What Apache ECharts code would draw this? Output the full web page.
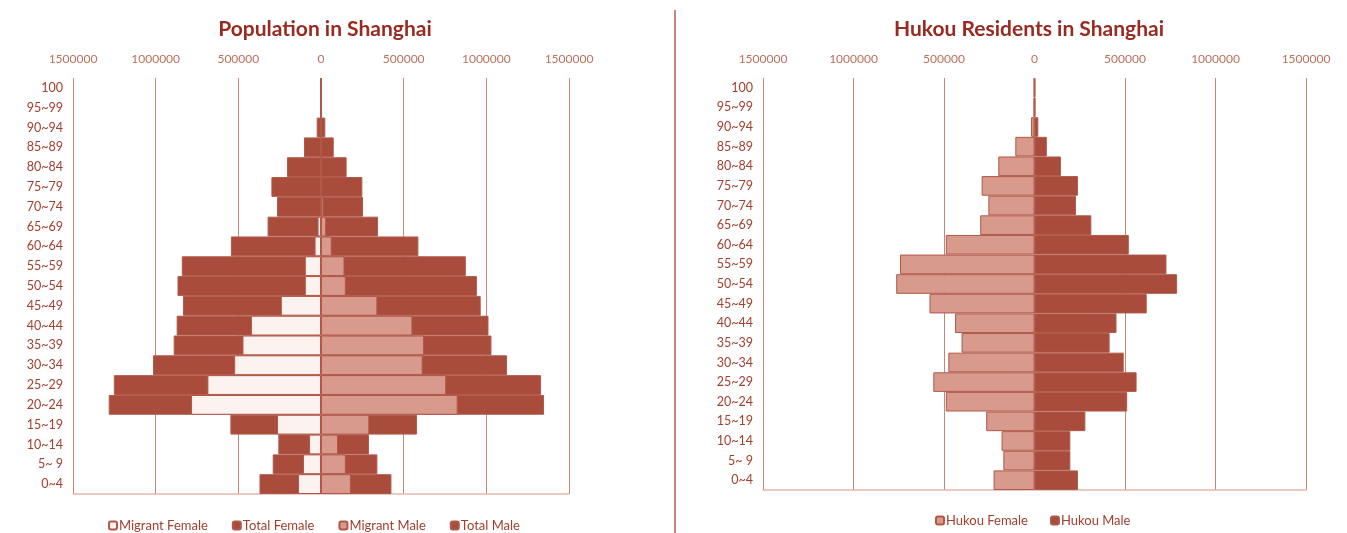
<!DOCTYPE html>
<html>
<head>
<meta charset="utf-8">
<script src="https://cdn.jsdelivr.net/npm/echarts@6/dist/echarts.min.js"></script>
<style>
  html, body { margin: 0; padding: 0; background: #fff; }
  #chart { width: 1347px; height: 533px; }
</style>
</head>
<body>
<div id="chart"></div>
<script>
// 年龄组（自下而上）
const ageGroups = ['0~4', '5~ 9', '10~14', '15~19', '20~24', '25~29', '30~34', '35~39', '40~44',
  '45~49', '50~54', '55~59', '60~64', '65~69', '70~74', '75~79', '80~84', '85~89', '90~94', '95~99', '100']

// 常住人口
const totalFemale = [372000, 292000, 258000, 548000, 1284000, 1253000, 1016000, 891000, 873000,
  835000, 868000, 842000, 545000, 323000, 266000, 300000, 206000, 103000, 26000, 5000, 4000]
const totalMale = [426000, 341000, 290000, 581000, 1349000, 1331000, 1125000, 1031000, 1013000,
  966000, 943000, 876000, 589000, 345000, 254000, 250000, 155000, 77000, 26000, 5000, 4000]
const migrantFemale = [139000, 109000, 72000, 266000, 786000, 687000, 525000, 475000, 424000,
  243000, 98000, 98000, 39000, 21000, 5000, 4000, 0, 0, 0, 0, 0]
const migrantMale = [181000, 150000, 103000, 292000, 827000, 757000, 615000, 623000, 553000,
  341000, 150000, 142000, 65000, 31000, 15000, 8000, 0, 0, 0, 0, 0]

// 户籍人口
const hukouFemale = [226000, 172000, 182000, 267000, 490000, 559000, 476000, 403000, 439000,
  580000, 764000, 743000, 490000, 300000, 255000, 292000, 200000, 106000, 19000, 5000, 4000]
const hukouMale = [240000, 198000, 198000, 281000, 512000, 564000, 493000, 415000, 453000,
  620000, 788000, 729000, 521000, 314000, 229000, 240000, 146000, 68000, 21000, 5000, 4000]

const tickMax = 1500000
const tickStep = 500000

const chart = echarts.init(document.getElementById('chart'))

const dark = '#a94c3c'
const mid = '#d89a8c'
const light = '#fcf3f0'
const edge = '#b0584a'
const textRed = '#a23f2f'
const fontFamily = 'Lato, "Open Sans", sans-serif'

const neg = (arr) => arr.map((v) => -v)

function valueAxis(gridIndex, pos, showLabel) {
  return {
    type: 'value',
    gridIndex: gridIndex,
    position: pos,
    min: -tickMax,
    max: tickMax,
    interval: tickStep,
    axisLine: { show: pos === 'bottom', lineStyle: { color: '#e3b8ae', width: 1.5 } },
    axisTick: { show: false },
    axisLabel: {
      show: showLabel,
      color: '#b9705f',
      fontSize: 12,
      fontFamily: fontFamily,
      margin: 13,
      formatter: (v) => Math.abs(v),
    },
    splitLine: { show: showLabel, lineStyle: { color: '#c98676', width: 1 } },
  }
}

function catAxis(gridIndex) {
  return {
    type: 'category',
    gridIndex: gridIndex,
    data: ageGroups,
    position: 'left',
    axisLine: { show: false, onZero: false },
    axisTick: { show: false },
    axisLabel: { color: textRed, fontSize: 12.5, fontFamily: fontFamily, margin: 10 },
  }
}

function bar(name, data, xi, yi, color) {
  return {
    name: name,
    type: 'bar',
    xAxisIndex: xi,
    yAxisIndex: yi,
    data: data,
    barGap: '-100%',
    barCategoryGap: 0,
    itemStyle: { color: color, borderColor: edge, borderWidth: 1 },
    emphasis: { disabled: true },
  }
}

const legendText = { color: textRed, fontSize: 13, fontFamily: fontFamily, padding: [0, 0, 0, -3] }

const option = {
  animation: false,
  backgroundColor: '#fff',
  title: [
    {
      text: 'Population in Shanghai',
      left: 320, top: 14, textAlign: 'center',
      textStyle: { color: '#982a20', fontSize: 21, fontWeight: 'bold', fontFamily: fontFamily },
    },
    {
      text: 'Hukou Residents in Shanghai',
      left: 1024, top: 14, textAlign: 'center',
      textStyle: { color: '#982a20', fontSize: 21, fontWeight: 'bold', fontFamily: fontFamily },
    },
  ],
  legend: [
    {
      data: ['Migrant Female', 'Total Female', 'Migrant Male', 'Total Male'],
      left: 103, top: 514,
      itemWidth: 8, itemHeight: 8, itemGap: 24,
      textStyle: legendText,
      selectedMode: false,
    },
    {
      data: ['Hukou Female', 'Hukou Male'],
      left: 930, top: 509,
      itemWidth: 8, itemHeight: 8, itemGap: 22,
      textStyle: legendText,
      selectedMode: false,
    },
  ],
  grid: [
    { left: 73, width: 496, top: 78, height: 416 },
    { left: 763, width: 543, top: 78, height: 412 },
  ],
  xAxis: [
    valueAxis(0, 'top', true),
    valueAxis(0, 'bottom', false),
    valueAxis(1, 'top', true),
    valueAxis(1, 'bottom', false),
  ],
  yAxis: [catAxis(0), catAxis(1)],
  series: [
    bar('Total Female', neg(totalFemale), 0, 0, dark),
    bar('Total Male', totalMale, 0, 0, dark),
    bar('Migrant Female', neg(migrantFemale), 0, 0, light),
    bar('Migrant Male', migrantMale, 0, 0, mid),
    bar('Hukou Female', neg(hukouFemale), 2, 1, mid),
    bar('Hukou Male', hukouMale, 2, 1, dark),
  ],
  graphic: [
    {
      type: 'line',
      shape: { x1: 675, y1: 10, x2: 675, y2: 533 },
      style: { stroke: '#b5604e', lineWidth: 1.5 },
      silent: true,
    },
  ],
}

chart.setOption(option)
</script>
</body>
</html>
